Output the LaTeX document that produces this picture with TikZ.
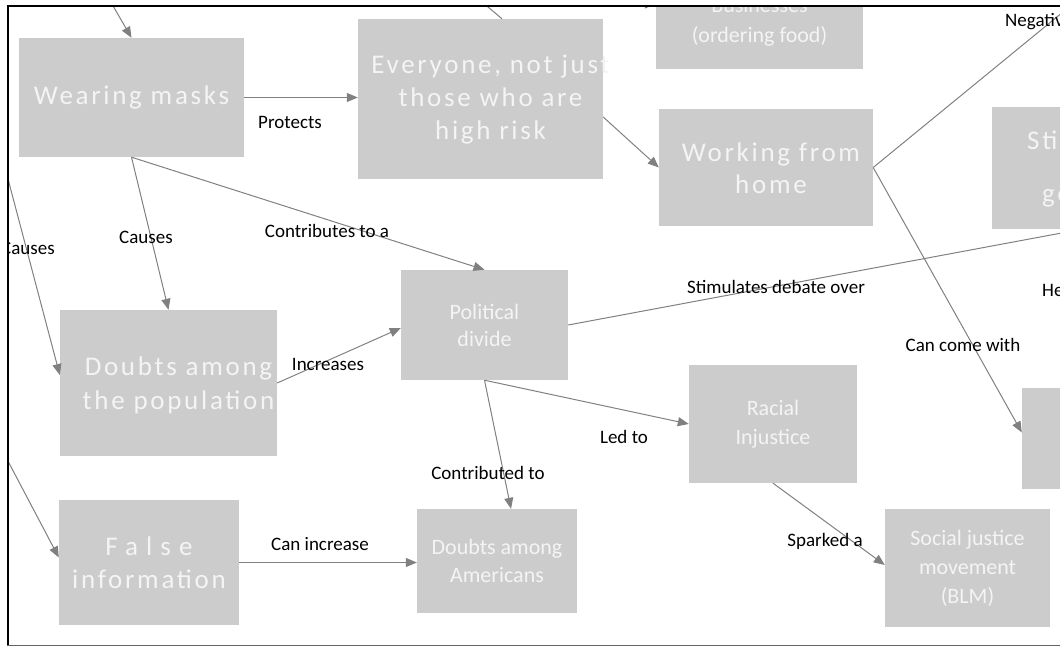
\documentclass[tikz,border=0pt]{standalone}
\usepackage{fontspec}
\setmainfont{Carlito}
\usetikzlibrary{arrows.meta,calc}
\definecolor{boxgray}{RGB}{204,204,204}
\definecolor{boxtext}{RGB}{244,244,244}
\definecolor{linegray}{RGB}{128,128,128}
\definecolor{framegray}{RGB}{100,100,100}
\tikzset{
  box/.style={fill=boxgray, draw=none, inner sep=0pt, text=boxtext, align=center},
  boxlabel/.style={inner sep=0pt, text=boxtext, align=center},
  bigtext/.style={font=\addfontfeature{LetterSpace=10}\fontsize{27}{33}\selectfont},
  smalltext/.style={font=\fontsize{22}{28}\selectfont},
  conn/.style={draw=linegray, line width=1pt, -{Triangle[length=11pt,width=9pt]}},
  plainconn/.style={draw=linegray, line width=1pt},
  lbl/.style={font=\fontsize{19}{23}\selectfont, inner sep=0pt, text=black},
}
\begin{document}
\begin{tikzpicture}[x=1pt, y=-1pt]
\useasboundingbox (0,0) rectangle (1060,647);
\begin{scope}
\clip (8,7) rectangle (1060,645);
% concept boxes
\node[box, bigtext, minimum width=225, minimum height=119] (wm) at (131.5,97.5) {Wearing masks};
\node[box, minimum width=245, minimum height=160] (ev) at (480.5,99) {};
\node[boxlabel, bigtext] (evText) at ($(ev.center)+(10,1)$) {Everyone, not just\\those who are\\high risk};
\node[box, smalltext, minimum width=207, minimum height=94, font=\fontsize{22}{30}\selectfont] (biz) at (759.5,22) {Businesses\\(ordering food)};
\node[box, minimum width=214, minimum height=117] (wfh) at (766,167.5) {};
\node[boxlabel, bigtext, font=\addfontfeature{LetterSpace=10}\fontsize{27}{32}\selectfont] (wfhText) at ($(wfh.center)+(5,1)$) {Working from\\home};
\node[box, minimum width=214, minimum height=122] (stim) at (1099,168) {};
\node[box, minimum width=108, minimum height=101] (rb) at (1076,438.5) {};
\node[box, smalltext, minimum width=167, minimum height=110, font=\fontsize{22}{27}\selectfont] (pd) at (484.5,325) {Political\\divide};
\node[box, minimum width=217, minimum height=146] (dp) at (168.5,383) {};
\node[boxlabel, bigtext, font=\addfontfeature{LetterSpace=10}\fontsize{27}{34}\selectfont] (dpText) at ($(dp.center)+(10,2)$) {Doubts among\\the population};
\node[box, bigtext, minimum width=180, minimum height=125] (fi) at (149,562.5) {{\addfontfeature{LetterSpace=30}False}\\information};
\node[box, smalltext, minimum width=160, minimum height=104] (da) at (497,561) {Doubts among\\Americans};
\node[box, smalltext, minimum width=168, minimum height=118, font=\fontsize{22}{29}\selectfont] (ri) at (773,424) {Racial\\Injustice};
\node[box, smalltext, minimum width=165, minimum height=118, font=\fontsize{22}{29}\selectfont] (sj) at (967.5,568) {Social justice\\movement\\(BLM)};
% text of the box running off the right edge
\node[boxlabel, bigtext, anchor=west] (stimA) at (1027,140) {Stim};
\node[boxlabel, bigtext, anchor=west] (stimB) at (1042,198) {go};
% free ends of connectors leaving the view
\coordinate (inWM) at (98,-20);
\coordinate (outEV) at (456,-20);
\coordinate (outWFH) at (1102,-20);
\coordinate (outPD) at (1075,230.5);
\coordinate (inDP) at (-20,73);
\coordinate (inFI) at (-20,408);
\coordinate (inBIZ) at (560,4);
% connectors
\draw[conn] (inWM) -- (wm.north);
\draw[conn] (wm.east) -- (wm.east -| ev.west);
\draw[conn] (wm.south) -- (dp.north);
\draw[conn] (wm.south) -- (pd.north);
\draw[conn] (inDP) -- ($(dp.west)+(0,-8)$);
\draw[conn] (dp.east) -- ($(pd.west)+(0,3)$);
\draw[conn] ($(ev.east)+(0,18)$) -- (wfh.west);
\draw[plainconn] ($(ev.north)+(21.5,0)$) -- (outEV);
\draw[conn] (inBIZ) -- (inBIZ -| biz.west);
\draw[plainconn] (wfh.east) -- (outWFH);
\draw[conn] (wfh.east) -- ($(rb.west)+(0,-6)$);
\draw[conn] (pd.east) -- (outPD);
\draw[conn] (pd.south) -- ($(da.north)+(14,0)$);
\draw[conn] (pd.south) -- (ri.west);
\draw[conn] (ri.south) -- ($(sj.west)+(0,-3)$);
\draw[conn] (inFI) -- ($(fi.west)+(0,-5)$);
\draw[conn] (fi.east) -- (fi.east -| da.west);
% connector labels
\node[lbl] (lProtects) at (290,122) {Protects};
\node[lbl] (lCauses) at (146,237) {Causes};
\node[lbl] (lCausesL) at (28,248) {Causes};
\node[lbl] (lContributes) at (327,231) {Contributes to a};
\node[lbl] (lIncreases) at (328,364) {Increases};
\node[lbl] (lStim) at (776,287) {Stimulates debate over};
\node[lbl] (lCome) at (963,345) {Can come with};
\node[lbl] (lContributed) at (488,473) {Contributed to};
\node[lbl] (lLed) at (624,437) {Led to};
\node[lbl] (lSparked) at (825,541) {Sparked a};
\node[lbl] (lCan) at (320,544) {Can increase};
\node[lbl, anchor=west] (lNeg) at (1005,22) {Negative};
\node[lbl, anchor=west] (lHe) at (1042,290) {He};
\end{scope}
% frame
\draw[line width=2pt] (7.5,646) -- (7.5,6) -- (1060,6);
\draw[framegray, line width=1.5pt] (7,645.5) -- (1060,645.5);
\end{tikzpicture}
\end{document}
